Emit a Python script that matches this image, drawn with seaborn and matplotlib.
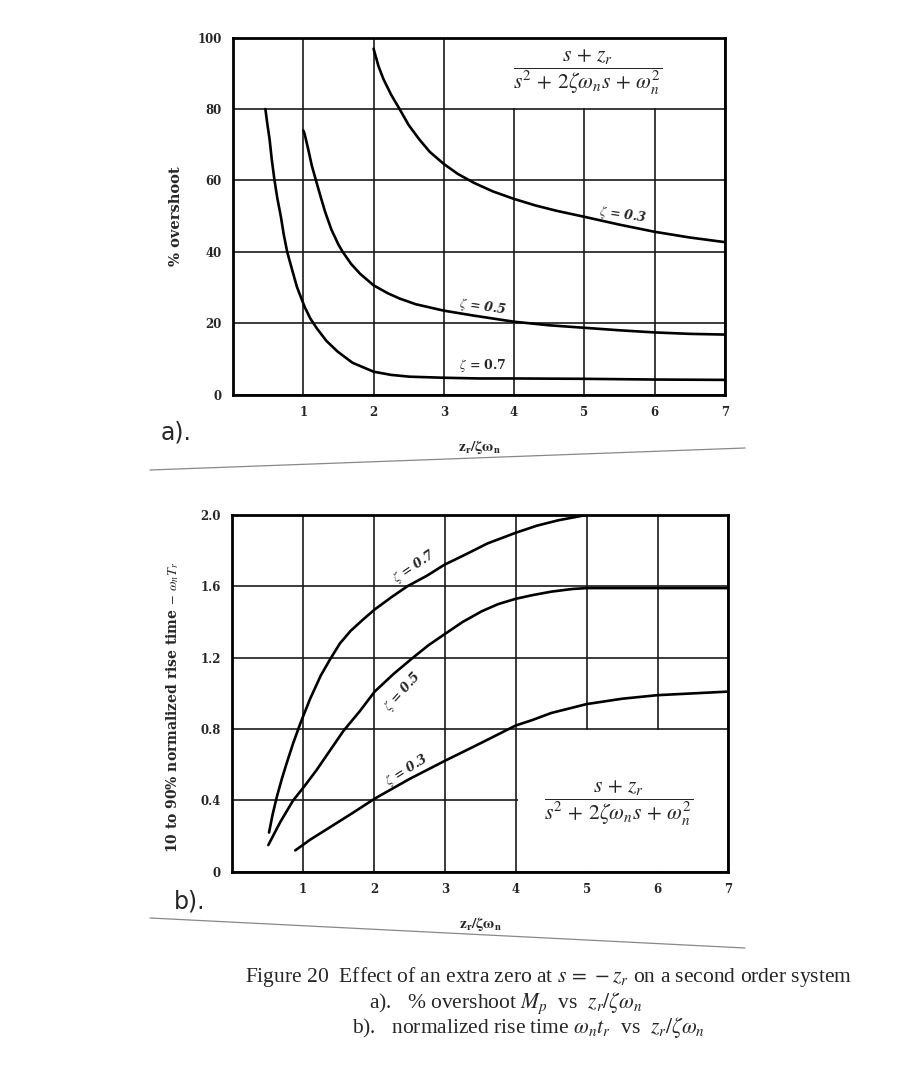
import matplotlib
matplotlib.use("Agg")
import matplotlib.pyplot as plt
from matplotlib.lines import Line2D
from matplotlib.patches import Rectangle
import pandas as pd
import seaborn as sns

# --- data ---
# a) percent overshoot vs z_r / (zeta w_n)
over_x_03 = [2.0, 2.07, 2.14, 2.25, 2.37, 2.5, 2.65, 2.8, 3.0, 3.2, 3.43, 3.7, 4.0, 4.3, 4.6,
             5.0, 5.5, 6.0, 6.5, 7.0]
over_y_03 = [96.9, 92, 88.4, 84, 80, 75.5, 71.5, 68, 64.6, 61.8, 59.3, 56.9, 54.8, 53, 51.5,
             49.8, 47.6, 45.6, 44, 42.7]
over_x_05 = [1.0, 1.02, 1.07, 1.12, 1.19, 1.25, 1.31, 1.4, 1.5, 1.56, 1.68, 1.81, 2.0, 2.2,
             2.37, 2.6, 3.0, 3.43, 4.0, 4.5, 5.0, 5.5, 6.0, 6.5, 7.0]
over_y_05 = [74, 72.9, 68.7, 64.2, 59.3, 55.2, 51.2, 46.2, 42, 40, 36.6, 33.8, 30.6, 28.4,
             26.9, 25.3, 23.5, 22.1, 20.4, 19.4, 18.7, 18, 17.4, 17, 16.8]
over_x_07 = [0.46, 0.49, 0.52, 0.55, 0.59, 0.63, 0.68, 0.72, 0.77, 0.84, 0.91, 1.02, 1.1,
             1.19, 1.33, 1.49, 1.7, 2.0, 2.25, 2.51, 3.0, 3.5, 4.0, 5.0, 6.0, 7.0]
over_y_07 = [80, 75.5, 71.5, 66, 60, 55, 49.9, 45, 40, 35, 30.1, 24.5, 21.3,
             18.6, 15, 12, 8.9, 6.4, 5.5, 5.0, 4.7, 4.5, 4.5, 4.4, 4.2, 4.1]

# b) normalized rise time vs z_r / (zeta w_n)
rise_x_07 = [0.52, 0.57, 0.63, 0.7, 0.77, 0.86, 0.96, 1.1, 1.25, 1.38, 1.52, 1.67, 1.85,
             2.01, 2.25, 2.47, 2.75, 2.99, 3.3, 3.6, 4.0, 4.3, 4.6, 5.0]
rise_y_07 = [0.22, 0.32, 0.42, 0.52, 0.61, 0.72, 0.83, 0.97, 1.10, 1.19, 1.28, 1.35, 1.415,
             1.47, 1.54, 1.60, 1.66, 1.72, 1.78, 1.84, 1.90, 1.94, 1.97, 2.0]
rise_x_05 = [0.51, 0.68, 0.86, 1.02, 1.19, 1.38, 1.57, 1.8, 2.01, 2.28, 2.55, 2.77, 2.99,
             3.25, 3.52, 3.75, 4.0, 4.23, 4.5, 4.8, 5.0, 5.5, 6.0, 7.0]
rise_y_05 = [0.15, 0.28, 0.40, 0.48, 0.57, 0.68, 0.79, 0.90, 1.01, 1.11, 1.20, 1.27, 1.33,
             1.40, 1.46, 1.50, 1.53, 1.55, 1.57, 1.585, 1.59, 1.59, 1.59, 1.59]
rise_x_03 = [0.89, 1.1, 1.38, 1.7, 2.01, 2.5, 2.99, 3.5, 4.0, 4.23, 4.5, 4.8, 5.0, 5.5,
             6.0, 6.5, 7.0]
rise_y_03 = [0.12, 0.18, 0.25, 0.33, 0.41, 0.52, 0.62, 0.72, 0.82, 0.85, 0.89, 0.92, 0.94,
             0.97, 0.99, 1.0, 1.01]

zeta_labels = ["0.3", "0.5", "0.7"]
x_ticks = [1, 2, 3, 4, 5, 6, 7]
over_ticks = [0, 20, 40, 60, 80, 100]
rise_ticks = [0, 0.4, 0.8, 1.2, 1.6, 2.0]
rise_tick_labels = ["0", "0.4", "0.8", "1.2", "1.6", "2.0"]


def to_long(xs, ys):
    frames = []
    for zeta, x, y in zip(zeta_labels, xs, ys):
        frames.append(pd.DataFrame({"x": x, "y": y, "zeta": zeta}))
    return pd.concat(frames, ignore_index=True)


over_df = to_long([over_x_03, over_x_05, over_x_07], [over_y_03, over_y_05, over_y_07])
rise_df = to_long([rise_x_03, rise_x_05, rise_x_07], [rise_y_03, rise_y_05, rise_y_07])

sns.set_style("white")
plt.rcParams["font.family"] = ["DejaVu Serif", "DejaVu Sans"]
plt.rcParams["mathtext.fontset"] = "stix"

fig = plt.figure(figsize=(9.14, 10.75), dpi=100)
ax_a = fig.add_axes([0.255, 0.633, 0.538, 0.332])
ax_b = fig.add_axes([0.254, 0.189, 0.543, 0.332])

palette = {z: "black" for z in zeta_labels}
tick_font = dict(family="DejaVu Serif", weight="bold", size=8.5)
frac = r"$\dfrac{s\,+\,z_r}{s^2\,+\,2\zeta\omega_n s\,+\,\omega_n^2}$"

for ax, df in ((ax_a, over_df), (ax_b, rise_df)):
    sns.lineplot(
        data=df, x="x", y="y", hue="zeta", palette=palette,
        estimator=None, sort=False, legend=False, linewidth=1.9, ax=ax, zorder=3,
    )
    ax.set_xlim(0, 7)
    ax.set_xticks(x_ticks)
    ax.set_xticklabels([str(t) for t in x_ticks], fontdict=tick_font)
    ax.grid(True, color="#1a1a1a", linewidth=1.2)
    ax.set_axisbelow(True)
    ax.tick_params(length=0, pad=8)
    for sp in ax.spines.values():
        sp.set_linewidth(2.0)
        sp.set_color("black")
    ax.set_xlabel(r"$\mathbf{z_r/\zeta\omega_n}$", fontsize=11, labelpad=14)

# a) overshoot
ax_a.set_ylim(0, 100)
ax_a.set_yticks(over_ticks)
ax_a.set_yticklabels([str(t) for t in over_ticks], fontdict=tick_font)
ax_a.set_ylabel("% overshoot", weight="bold", fontsize=10.5)
ax_a.yaxis.set_label_coords(-0.102, 0.5)
ax_a.add_patch(Rectangle((3.03, 80.4), 3.95, 19.4, facecolor="white", edgecolor="none", zorder=1.6))
ax_a.text(5.05, 90.3, frac, ha="center", va="center", fontsize=15.5, zorder=4)
ax_a.text(5.55, 50.3, r"$\zeta$ = 0.3", style="italic", weight="bold", fontsize=9,
          ha="center", va="center", rotation=-8)
ax_a.text(3.55, 24.6, r"$\zeta$ = 0.5", style="italic", weight="bold", fontsize=9,
          ha="center", va="center", rotation=-8)
ax_a.text(3.55, 8.2, r"$\zeta$ = 0.7", weight="bold", fontsize=9, ha="center", va="center")

# b) rise time
ax_b.set_ylim(0, 2.0)
ax_b.set_yticks(rise_ticks)
ax_b.set_yticklabels(rise_tick_labels, fontdict=tick_font)
ax_b.set_ylabel(r"10 to 90% normalized rise time $-$ $\omega_n T_r$", weight="bold",
                fontsize=10)
ax_b.yaxis.set_label_coords(-0.103, 0.462)
ax_b.add_patch(Rectangle((4.03, 0.005), 2.95, 0.79, facecolor="white", edgecolor="none", zorder=1.6))
ax_b.text(5.45, 0.385, frac, ha="center", va="center", fontsize=15.5, zorder=4)
ax_b.text(2.57, 1.71, r"$\zeta$ = 0.7", style="italic", weight="bold", fontsize=9,
          ha="center", va="center", rotation=34)
ax_b.text(2.4, 1.01, r"$\zeta$ = 0.5", style="italic", weight="bold", fontsize=9,
          ha="center", va="center", rotation=48)
ax_b.text(2.46, 0.57, r"$\zeta$ = 0.3", style="italic", weight="bold", fontsize=9,
          ha="center", va="center", rotation=32)

# handwritten panel marks
fig.text(0.176, 0.598, "a).", fontsize=17, family="DejaVu Sans", ha="left", va="center")
fig.text(0.19, 0.161, "b).", fontsize=17, family="DejaVu Sans", ha="left", va="center")

# faint scan rules under each panel
W, H = 914, 1075
for (x0, y0), (x1, y1) in (((150, 470), (745, 448)), ((150, 918), (745, 948))):
    fig.add_artist(Line2D([x0 / W, x1 / W], [1 - y0 / H, 1 - y1 / H],
                          color="#888888", linewidth=0.9))

# caption
cap = dict(family="Liberation Serif", fontsize=15.5, ha="center", va="center")
fig.text(0.6, 1 - 977 / H,
         r"Figure 20  Effect of an extra zero at $s\,=\,-z_r$ on a second order system", **cap)
fig.text(0.553, 1 - 1003 / H,
         r"a).   % overshoot $M_p$  vs  $z_r/\zeta\omega_n$", **cap)
fig.text(0.578, 1 - 1027 / H,
         r"b).   normalized rise time $\omega_n t_r$  vs  $z_r/\zeta\omega_n$", **cap)

fig.savefig("out.png", dpi=100, facecolor="white")
